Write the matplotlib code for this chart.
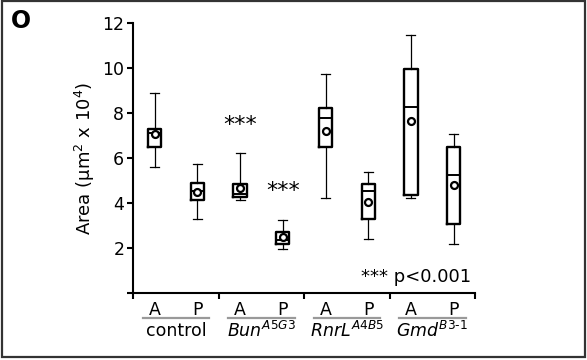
import matplotlib
matplotlib.use("Agg")
import matplotlib.pyplot as plt
from matplotlib.patches import Rectangle
from matplotlib.lines import Line2D

plt.rcParams['font.family'] = ['DejaVu Sans']
plt.rcParams['mathtext.fontset'] = 'custom'
plt.rcParams['mathtext.rm'] = 'DejaVu Sans'
plt.rcParams['mathtext.it'] = 'DejaVu Sans:italic'

# ---- data (values in units of 10^4 µm^2) ----
conditions = ["A", "P", "A", "P", "A", "P", "A", "P"]
groups = ["control", r"$\mathit{Bun}^{\mathit{A5G3}}$", r"$\mathit{RnrL}^{\mathit{A4B5}}$", r"$\mathit{Gmd}^{\mathit{B3\text{-}1}}$"]
whisker_low = [5.58, 3.29, 4.12, 1.98, 4.23, 2.40, 4.22, 2.20]
q1 = [6.50, 4.15, 4.26, 2.20, 6.48, 3.29, 4.34, 3.07]
median = [7.12, 4.52, 4.41, 2.35, 7.75, 4.53, 8.25, 5.25]
q3 = [7.28, 4.88, 4.85, 2.70, 8.20, 4.84, 9.93, 6.50]
whisker_high = [8.87, 5.75, 6.22, 3.24, 9.73, 5.37, 11.44, 7.07]
mean = [7.06, 4.51, 4.66, 2.50, 7.19, 4.04, 7.62, 4.79]
yticks = [0, 2, 4, 6, 8, 10, 12]
ytick_labels = ["", "2", "4", "6", "8", "10", "12"]
sig_labels = [("***", 3, 7.45), ("***", 4, 4.55)]
pvalue_note = "*** p<0.001"

fig = plt.figure(figsize=(5.87, 3.60), dpi=100)
ax = fig.add_axes([0.2271, 0.1852, 0.5821, 0.752])

positions = list(range(1, len(conditions) + 1))
stats = []
for i in range(len(conditions)):
    stats.append(dict(whislo=whisker_low[i], q1=q1[i], med=median[i], q3=q3[i],
                      whishi=whisker_high[i], mean=mean[i], fliers=[]))

ax.bxp(stats, positions=positions, widths=0.31, showmeans=True, showfliers=False,
       boxprops=dict(color='black', linewidth=1.7),
       medianprops=dict(color='black', linewidth=1.4),
       whiskerprops=dict(color='black', linewidth=0.9),
       capprops=dict(color='black', linewidth=0.9),
       capwidths=0.21,
       meanprops=dict(marker='o', markerfacecolor='white', markeredgecolor='black',
                      markersize=5, markeredgewidth=1.6))

ax.set_xlim(0.5, 8.5)
ax.set_ylim(0, 12)
for s in ['top', 'right']:
    ax.spines[s].set_visible(False)
for s in ['left', 'bottom']:
    ax.spines[s].set_linewidth(1.5)

ax.set_yticks(yticks)
ax.set_yticklabels(ytick_labels, fontsize=12.5)
ax.tick_params(axis='y', direction='out', length=4.5, width=1.5, pad=2)

ax.set_xticks(positions)
ax.set_xticklabels(conditions, fontsize=12.5)
ax.tick_params(axis='x', which='major', length=0, pad=5.5)
ax.set_xticks([0.5, 2.5, 4.5, 6.5, 8.5], minor=True)
ax.tick_params(axis='x', which='minor', direction='out', length=4, width=1.5)

ax.set_ylabel("Area (µm$^2$ x 10$^4$)", fontsize=13, labelpad=4)

# group underline + labels
for g, name in enumerate(groups):
    c = 1.5 + 2 * g
    ax.add_line(Line2D([c - 0.78, c + 0.78], [-1.08, -1.08], color='#999999',
                       linewidth=1.6, clip_on=False))
    ax.text(c, -1.66, name, ha='center', va='center', fontsize=12.5, clip_on=False)

for txt, x, y in sig_labels:
    ax.text(x, y, txt, ha='center', va='center', fontsize=16)
ax.text(8.42, 0.73, pvalue_note, ha='right', va='center', fontsize=13)

fig.text(21 / 587, 1 - 21 / 360, "O", fontsize=17, fontweight='bold', ha='center', va='center')
fig.patches.append(Rectangle((0.003, 0.009), 0.993, 0.987, transform=fig.transFigure,
                             fill=False, edgecolor='#333333', linewidth=1.6))

fig.savefig("out.png", dpi=100)
